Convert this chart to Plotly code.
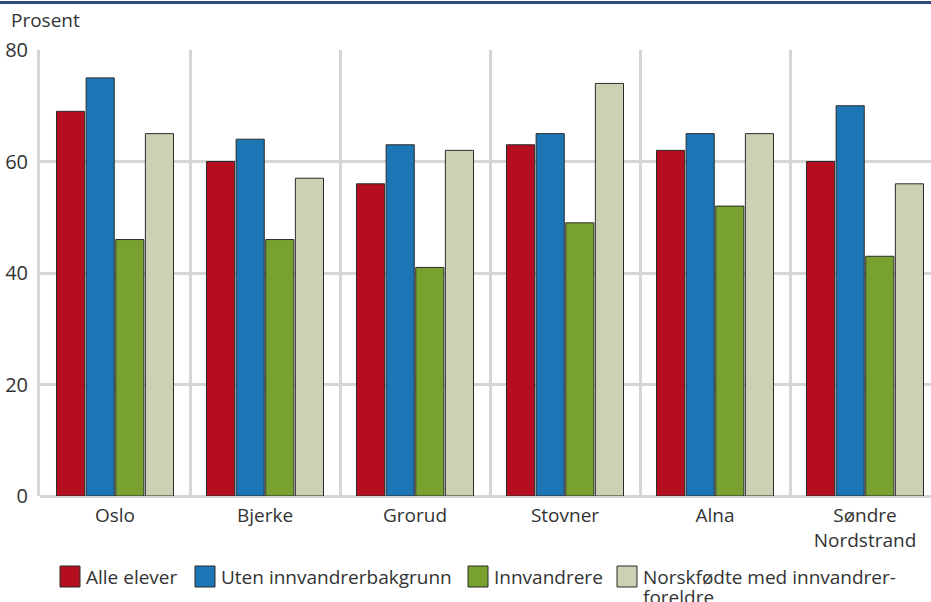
import plotly.graph_objects as go

bydeler = ["Oslo", "Bjerke", "Grorud", "Stovner", "Alna", "Søndre<br>Nordstrand"]

alle_elever = [69, 60, 56, 63, 62, 60]
uten_bakgrunn = [75, 64, 63, 65, 65, 70]
innvandrere = [46, 46, 41, 49, 52, 43]
norskfodte = [65, 57, 62, 74, 65, 56]

series = [
    ("Alle elever", alle_elever, "#b50e1e"),
    ("Uten innvandrerbakgrunn", uten_bakgrunn, "#1c75b4"),
    ("Innvandrere", innvandrere, "#78a12f"),
    ("Norskfødte med innvandrer-<br>foreldre", norskfodte, "#cdd0b3"),
]

W, H = 931, 602
ML, MT, MB = 40, 50, 106
PW, PH = W - ML, H - MT - MB


def px(x):  # pixel x -> paper
    return (x - ML) / PW


def py(y):  # pixel y -> paper
    return (H - MB - y) / PH


fig = go.Figure()
for name, vals, color in series:
    fig.add_trace(go.Bar(
        x=bydeler, y=vals, name=name, showlegend=False,
        marker=dict(color=color, line=dict(color="#2b2b2b", width=1)),
    ))

# hand-drawn legend: large swatches close to the text
shapes = [dict(type="line", xref="paper", yref="paper", x0=px(-5), x1=px(940),
               y0=py(2.5), y1=py(2.5), line=dict(color="#2e4a7d", width=3))]
annotations = [dict(text="Prosent", xref="paper", yref="paper", x=px(9),
                    y=py(20), xanchor="left", yanchor="middle", showarrow=False)]
swatch_x = [60, 195, 468, 617]
text_lines = [["Alle elever"], ["Uten innvandrerbakgrunn"], ["Innvandrere"],
              ["Norskfødte med innvandrer-", "foreldre"]]
for (name, vals, color), sx, lines in zip(series, swatch_x, text_lines):
    shapes.append(dict(type="rect", xref="paper", yref="paper",
                       x0=px(sx), x1=px(sx + 20), y0=py(587), y1=py(566),
                       fillcolor=color, line=dict(color="#2b2b2b", width=1)))
    for i, line in enumerate(lines):
        annotations.append(dict(text=line, xref="paper", yref="paper",
                                x=px(sx + 24), y=py(577 + 20 * i),
                                xanchor="left", yanchor="middle",
                                showarrow=False))

grid = "#d6d6d6"
fig.update_layout(
    width=W, height=H,
    margin=dict(l=ML, r=0, t=MT, b=MB, autoexpand=False),
    paper_bgcolor="white", plot_bgcolor="white",
    font=dict(family="Open Sans", size=19, color="#333333"),
    barmode="group", bargap=0.21, bargroupgap=0.05,
    showlegend=False,
    xaxis=dict(type="category", range=[-0.5, 5.44], tickson="boundaries",
               showgrid=True, gridcolor=grid, gridwidth=3, ticks="",
               showline=False, automargin=False, ticklabelstandoff=6),
    yaxis=dict(range=[0, 80], tickvals=[0, 20, 40, 60, 80], showgrid=True,
               gridcolor=grid, gridwidth=3, zeroline=True, zerolinecolor=grid,
               zerolinewidth=3, showline=True, linecolor=grid, linewidth=3,
               ticks="", ticklen=0, ticklabelstandoff=5, tickfont=dict(size=20),
               automargin=False),
    shapes=shapes,
    annotations=annotations,
)

fig.write_html("out.html", config={"displayModeBar": False},
               post_script="document.body.style.margin = '0';")
